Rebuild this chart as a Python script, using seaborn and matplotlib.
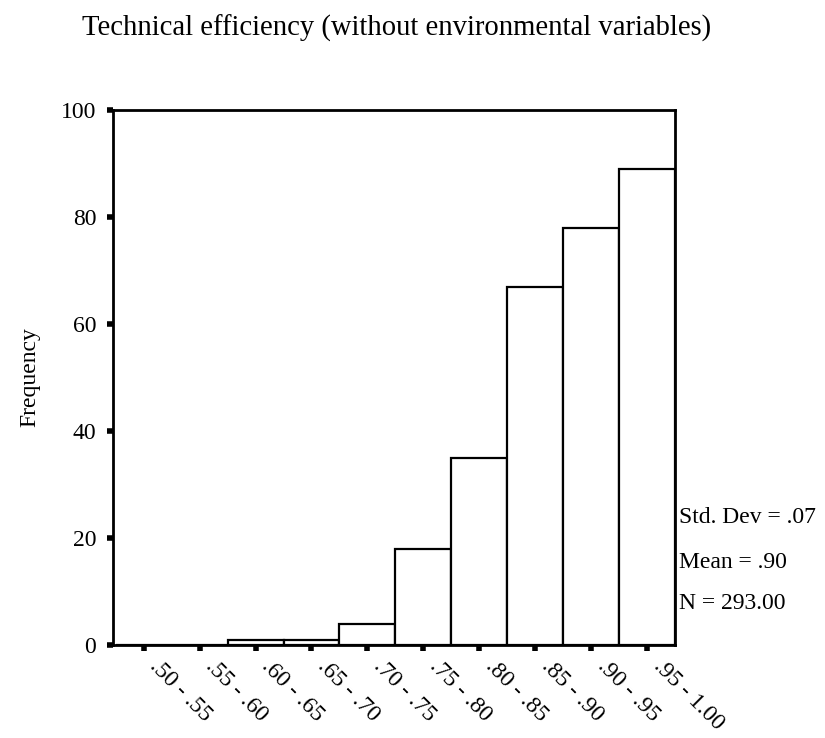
import matplotlib
matplotlib.use("Agg")
import matplotlib.pyplot as plt
import matplotlib.transforms as mtransforms
import seaborn as sns
import numpy as np
import pandas as pd

bin_labels = [".50 - .55", ".55 - .60", ".60 - .65", ".65 - .70", ".70 - .75",
              ".75 - .80", ".80 - .85", ".85 - .90", ".90 - .95", ".95 - 1.00"]
bin_lower = [0.50, 0.55, 0.60, 0.65, 0.70, 0.75, 0.80, 0.85, 0.90, 0.95]
bin_upper = [0.55, 0.60, 0.65, 0.70, 0.75, 0.80, 0.85, 0.90, 0.95, 1.00]
counts = [0, 0, 1, 1, 4, 18, 35, 67, 78, 89]
y_ticks = [0, 20, 40, 60, 80, 100]
stats_lines = ["Std. Dev = .07", "Mean = .90", "N = 293.00"]
title = "Technical efficiency (without environmental variables)"

sns.set_theme(style="white")
plt.rcParams['font.family'] = ['Liberation Serif', 'DejaVu Serif']
plt.rcParams['text.color'] = 'black'
plt.rcParams['axes.labelcolor'] = 'black'
plt.rcParams['xtick.color'] = 'black'
plt.rcParams['ytick.color'] = 'black'

fig = plt.figure(figsize=(8.25, 7.38), dpi=100)
ax = fig.add_axes([0.137, 0.126, 0.681, 0.725])

centers = [(a + b) / 2 for a, b in zip(bin_lower, bin_upper)]
edges = bin_lower + [bin_upper[-1]]
df = pd.DataFrame({"x": centers, "w": counts})
sns.histplot(data=df, x="x", weights="w", bins=edges, ax=ax,
             color="white", edgecolor="black", linewidth=1.6, alpha=1.0)

ax.set_xlim(0.4975, 1.0)
ax.set_ylim(0, 100)
ax.set_yticks(y_ticks)
ax.set_yticklabels([str(v) for v in y_ticks], fontsize=17)
ax.set_xticks(centers)
ax.set_xticklabels(bin_labels, rotation=-45, ha="left", va="top",
                   rotation_mode="anchor", fontsize=17)
ax.tick_params(axis="both", direction="out", length=4, width=4, color="black",
               bottom=True, left=True, labelcolor="black")
ax.tick_params(axis="y", pad=8)
ax.tick_params(axis="x", pad=4)
offset = mtransforms.ScaledTranslation(17 / 100, 0, fig.dpi_scale_trans)
for lab in ax.get_xticklabels():
    lab.set_transform(lab.get_transform() + offset)
for s in ax.spines.values():
    s.set_visible(True)
    s.set_color("black")
    s.set_linewidth(2)

ax.set_xlabel("")
ax.set_ylabel("Frequency", fontsize=17, labelpad=15)

fig.text(0.481, 0.962, title, ha="center", va="center", fontsize=20.6)

ys = [517, 562, 603]
for t, yy in zip(stats_lines, ys):
    ax.text(1.007, 1 - (yy - 110) / 535, t, transform=ax.transAxes,
            ha="left", va="center", fontsize=17)

fig.savefig("out.png", dpi=100)
